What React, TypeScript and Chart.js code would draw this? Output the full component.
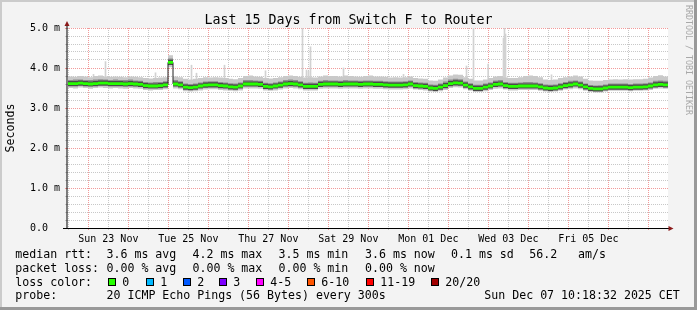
import React, { useEffect, useRef } from 'react';
import { Chart, registerables } from 'chart.js';

Chart.register(...registerables);

// ---------- texts ----------
const TITLE = 'Last 15 Days from Switch F to Router';
const Y_TITLE = 'Seconds';
const WATERMARK = 'RRDTOOL / TOBI OETIKER';

// ---------- time axis (hours since Sat 22 Nov 2025 00:00) ----------
const X_MIN = 11.2;
const X_MAX = 371.8;
const SAMPLE_START = 11.8;
const SAMPLE_STEP = 3;

const xTickHours = [36, 84, 132, 180, 228, 276, 324];
const xTickLabels = ['Sun 23 Nov', 'Tue 25 Nov', 'Thu 27 Nov', 'Sat 29 Nov', 'Mon 01 Dec', 'Wed 03 Dec', 'Fri 05 Dec'];
const yTickValues = [0, 1, 2, 3, 4, 5];
const yTickLabels = ['0.0  ', '1.0 m', '2.0 m', '3.0 m', '4.0 m', '5.0 m'];

// ---------- data (milliseconds), one value per 3-hour sample ----------
const median = [
  3.61, 3.61, 3.62, 3.61, 3.60, 3.61, 3.62, 3.62, 3.61, 3.61,
  3.61, 3.60, 3.61, 3.60, 3.59, 3.56, 3.55, 3.55, 3.56, 3.58,
  4.14, 3.60, 3.58, 3.52, 3.51, 3.52, 3.55, 3.57, 3.58, 3.58,
  3.56, 3.55, 3.53, 3.52, 3.55, 3.60, 3.60, 3.60, 3.59, 3.54,
  3.53, 3.55, 3.57, 3.60, 3.61, 3.60, 3.58, 3.54, 3.54, 3.54,
  3.59, 3.60, 3.60, 3.60, 3.59, 3.60, 3.60, 3.60, 3.59, 3.60,
  3.60, 3.59, 3.59, 3.58, 3.57, 3.57, 3.57, 3.58, 3.60, 3.56,
  3.55, 3.54, 3.50, 3.49, 3.52, 3.56, 3.61, 3.63, 3.62, 3.57,
  3.53, 3.49, 3.49, 3.52, 3.55, 3.59, 3.60, 3.56, 3.54, 3.54,
  3.55, 3.55, 3.55, 3.55, 3.53, 3.50, 3.49, 3.50, 3.53, 3.56,
  3.58, 3.60, 3.57, 3.53, 3.49, 3.48, 3.48, 3.50, 3.52, 3.52,
  3.52, 3.52, 3.51, 3.52, 3.52, 3.53, 3.55, 3.58, 3.59, 3.58,
];

const smokeHi = [
  3.79, 3.78, 3.80, 3.79, 3.77, 3.80, 3.81, 3.79, 3.78, 3.79,
  3.78, 3.77, 3.79, 3.78, 3.77, 3.75, 3.74, 3.75, 3.76, 3.77,
  4.32, 3.79, 3.77, 3.73, 3.71, 3.73, 3.75, 3.77, 3.76, 3.77,
  3.76, 3.75, 3.73, 3.72, 3.75, 3.80, 3.81, 3.79, 3.78, 3.75,
  3.74, 3.75, 3.77, 3.80, 3.81, 3.80, 3.78, 3.76, 3.77, 3.76,
  3.79, 3.81, 3.80, 3.80, 3.79, 3.81, 3.80, 3.79, 3.78, 3.80,
  3.81, 3.79, 3.79, 3.78, 3.76, 3.77, 3.76, 3.77, 3.79, 3.75,
  3.74, 3.73, 3.69, 3.68, 3.71, 3.76, 3.81, 3.84, 3.83, 3.77,
  3.73, 3.69, 3.69, 3.71, 3.75, 3.79, 3.80, 3.76, 3.75, 3.75,
  3.77, 3.80, 3.81, 3.80, 3.77, 3.71, 3.70, 3.71, 3.75, 3.77,
  3.79, 3.81, 3.79, 3.73, 3.69, 3.68, 3.68, 3.70, 3.71, 3.72,
  3.71, 3.72, 3.71, 3.72, 3.72, 3.73, 3.76, 3.80, 3.82, 3.79,
];

const smokeInnerHi = [
  3.70, 3.71, 3.71, 3.70, 3.70, 3.71, 3.72, 3.71, 3.70, 3.71,
  3.70, 3.70, 3.71, 3.69, 3.68, 3.65, 3.64, 3.65, 3.65, 3.67,
  4.24, 3.70, 3.67, 3.61, 3.60, 3.61, 3.64, 3.66, 3.67, 3.67,
  3.65, 3.64, 3.62, 3.61, 3.64, 3.70, 3.70, 3.69, 3.68, 3.63,
  3.62, 3.64, 3.66, 3.70, 3.71, 3.70, 3.67, 3.63, 3.64, 3.63,
  3.68, 3.70, 3.69, 3.69, 3.68, 3.70, 3.69, 3.69, 3.68, 3.69,
  3.69, 3.68, 3.68, 3.67, 3.66, 3.66, 3.66, 3.67, 3.69, 3.65,
  3.64, 3.63, 3.59, 3.58, 3.61, 3.66, 3.71, 3.73, 3.72, 3.66,
  3.62, 3.58, 3.58, 3.61, 3.64, 3.69, 3.70, 3.65, 3.63, 3.63,
  3.64, 3.65, 3.65, 3.64, 3.62, 3.59, 3.58, 3.59, 3.62, 3.65,
  3.68, 3.69, 3.66, 3.61, 3.57, 3.56, 3.57, 3.59, 3.61, 3.61,
  3.61, 3.61, 3.60, 3.61, 3.61, 3.62, 3.64, 3.68, 3.69, 3.68,
];

const smokeInnerLo = [
  3.57, 3.57, 3.58, 3.57, 3.56, 3.57, 3.58, 3.58, 3.57, 3.57,
  3.57, 3.56, 3.57, 3.56, 3.55, 3.52, 3.51, 3.51, 3.52, 3.54,
  4.08, 3.56, 3.54, 3.48, 3.47, 3.48, 3.51, 3.53, 3.54, 3.54,
  3.52, 3.51, 3.49, 3.48, 3.51, 3.56, 3.56, 3.56, 3.55, 3.50,
  3.49, 3.51, 3.53, 3.56, 3.57, 3.56, 3.54, 3.50, 3.50, 3.50,
  3.55, 3.56, 3.56, 3.56, 3.55, 3.56, 3.56, 3.56, 3.55, 3.56,
  3.56, 3.55, 3.55, 3.54, 3.53, 3.53, 3.53, 3.54, 3.56, 3.52,
  3.51, 3.50, 3.46, 3.45, 3.48, 3.52, 3.57, 3.59, 3.58, 3.53,
  3.49, 3.45, 3.45, 3.48, 3.51, 3.55, 3.56, 3.52, 3.50, 3.50,
  3.51, 3.51, 3.51, 3.51, 3.49, 3.46, 3.45, 3.46, 3.49, 3.52,
  3.54, 3.56, 3.53, 3.49, 3.45, 3.44, 3.44, 3.46, 3.48, 3.48,
  3.48, 3.48, 3.47, 3.48, 3.48, 3.49, 3.51, 3.54, 3.55, 3.54,
];

const smokeLo = [
  3.50, 3.49, 3.51, 3.50, 3.48, 3.50, 3.51, 3.50, 3.49, 3.50,
  3.49, 3.48, 3.50, 3.49, 3.48, 3.45, 3.44, 3.45, 3.45, 3.47,
  4.02, 3.49, 3.47, 3.42, 3.41, 3.42, 3.44, 3.46, 3.47, 3.47,
  3.45, 3.44, 3.43, 3.42, 3.44, 3.49, 3.49, 3.49, 3.48, 3.44,
  3.43, 3.44, 3.46, 3.49, 3.50, 3.49, 3.47, 3.44, 3.44, 3.44,
  3.48, 3.49, 3.49, 3.49, 3.48, 3.49, 3.49, 3.49, 3.48, 3.49,
  3.49, 3.48, 3.48, 3.47, 3.46, 3.46, 3.46, 3.47, 3.49, 3.46,
  3.45, 3.44, 3.41, 3.40, 3.42, 3.45, 3.50, 3.52, 3.51, 3.47,
  3.43, 3.40, 3.40, 3.42, 3.45, 3.48, 3.49, 3.46, 3.44, 3.44,
  3.45, 3.45, 3.45, 3.45, 3.43, 3.41, 3.40, 3.41, 3.43, 3.46,
  3.47, 3.49, 3.47, 3.43, 3.40, 3.39, 3.39, 3.41, 3.43, 3.43,
  3.43, 3.43, 3.42, 3.43, 3.43, 3.44, 3.45, 3.48, 3.49, 3.48,
];

// single slow pings (max of interval), hours since 22 Nov 00:00
const spikeHours = [27.1, 34.3, 64.3, 85.9, 88.9, 105.7, 130.3, 152.5, 154.9, 156.1, 157.3, 177.1, 213.1, 250.9, 255.1, 263.9, 273.1, 273.7, 274.3, 301.9];
const spikeTops = [3.84, 4.16, 3.88, 4.07, 3.87, 4.07, 3.93, 5.0, 3.95, 3.92, 4.53, 4.0, 3.84, 4.05, 5.0, 4.1, 4.75, 5.0, 4.85, 3.83];
const SPIKE_BASE = 3.6;

// ---------- legend ----------
const rttLabel = 'median rtt:';
const rttStats = ['3.6 ms avg', '4.2 ms max', '3.5 ms min', '3.6 ms now', '0.1 ms sd', '56.2   am/s'];
const lossLabel = 'packet loss:';
const lossStats = ['0.00 % avg', '0.00 % max', '0.00 % min', '0.00 % now'];
const lossColorLabel = 'loss color:';
const lossColorNames = ['0', '1', '2', '3', '4-5', '6-10', '11-19', '20/20'];
const lossColors = ['#26ff00', '#00b8ff', '#0059ff', '#7e00ff', '#ff00ff', '#ff5500', '#ff0000', '#a10000'];
const probeLabel = 'probe:';
const probeText = '20 ICMP Echo Pings (56 Bytes) every 300s';
const stampText = 'Sun Dec 07 10:18:32 2025 CET';

// ---------- styles / layout ----------
const W = 697;
const H = 310;
const MONO = '"DejaVu Sans Mono", monospace';
const BACK = '#f3f3f3';
const SHADE_A = '#cbcbcb';
const SHADE_B = '#999999';
const GRID = '#c8c8c8';
const MGRID = '#f29a9a';
const ARROW = '#8b1a1a';
const GREEN = lossColors[0];
const BAND = 0.035;
const HALO = 0.065;
const statX = [106.5, 192.5, 278.5, 365, 451, 529.2];
const boxX = [108, 146, 183, 219, 256, 307, 366, 431];
const rowY = [258.3, 271.7, 285.6, 299];

const decorPlugin = {
  id: 'decor',
  beforeDraw(chart: any) {
    const { ctx, chartArea: a } = chart;
    ctx.save();
    ctx.fillStyle = BACK;
    ctx.fillRect(0, 0, W, H);
    ctx.fillStyle = SHADE_A;
    ctx.fillRect(0, 0, W, 2);
    ctx.fillRect(0, 0, 2, H);
    ctx.fillStyle = SHADE_B;
    ctx.fillRect(0, H - 3, W, 3);
    ctx.fillRect(W - 3, 0, 3, H);
    ctx.fillStyle = '#ffffff';
    ctx.fillRect(a.left, a.top, a.right - a.left, a.bottom - a.top);
    ctx.restore();
  },
  afterDraw(chart: any) {
    const { ctx, chartArea: a } = chart;
    ctx.save();
    // axes
    ctx.strokeStyle = '#000';
    ctx.lineWidth = 1;
    ctx.beginPath();
    ctx.moveTo(a.left - 4, a.bottom + 0.5);
    ctx.lineTo(a.right + 1, a.bottom + 0.5);
    ctx.stroke();
    ctx.beginPath();
    ctx.moveTo(a.left, a.bottom + 1);
    ctx.lineTo(a.left, a.top - 3);
    ctx.stroke();
    ctx.fillStyle = ARROW;
    ctx.beginPath();
    ctx.moveTo(a.right + 0.5, a.bottom - 2);
    ctx.lineTo(a.right + 0.5, a.bottom + 3);
    ctx.lineTo(a.right + 5.5, a.bottom + 0.5);
    ctx.closePath();
    ctx.fill();
    ctx.beginPath();
    ctx.moveTo(a.left - 2.5, a.top - 2);
    ctx.lineTo(a.left + 2.5, a.top - 2);
    ctx.lineTo(a.left, a.top - 7);
    ctx.closePath();
    ctx.fill();

    // title
    ctx.fillStyle = '#000';
    ctx.font = `13.3px ${MONO}`;
    ctx.textAlign = 'center';
    ctx.textBaseline = 'alphabetic';
    ctx.fillText(TITLE, W / 2, 24);

    // vertical axis title
    ctx.save();
    ctx.font = `11.6px ${MONO}`;
    ctx.translate(11, (a.top + a.bottom) / 2);
    ctx.rotate(-Math.PI / 2);
    ctx.textAlign = 'center';
    ctx.textBaseline = 'middle';
    ctx.fillText(Y_TITLE, 0, 0);
    ctx.restore();

    // watermark
    ctx.save();
    ctx.font = `8.3px ${MONO}`;
    ctx.fillStyle = '#a8a8a8';
    ctx.translate(688, 5);
    ctx.rotate(Math.PI / 2);
    ctx.textAlign = 'left';
    ctx.textBaseline = 'middle';
    ctx.fillText(WATERMARK, 0, 0);
    ctx.restore();

    // legend
    ctx.font = `11.6px ${MONO}`;
    ctx.textAlign = 'left';
    ctx.textBaseline = 'alphabetic';
    ctx.fillStyle = '#000';
    ctx.fillText(rttLabel, 15.3, rowY[0]);
    rttStats.forEach((s, i) => ctx.fillText(s, statX[i], rowY[0]));
    ctx.fillText(lossLabel, 15.3, rowY[1]);
    lossStats.forEach((s, i) => ctx.fillText(s, statX[i], rowY[1]));
    ctx.fillText(lossColorLabel, 15.3, rowY[2]);
    lossColorNames.forEach((s, i) => {
      const bx = boxX[i];
      ctx.fillStyle = lossColors[i];
      ctx.fillRect(bx, 278, 8, 8);
      ctx.strokeStyle = '#000';
      ctx.strokeRect(bx + 0.5, 278.5, 7, 7);
      ctx.fillStyle = '#000';
      ctx.fillText(s, bx + 14.3, rowY[2]);
    });
    ctx.fillText(probeLabel, 15.3, rowY[3]);
    ctx.fillText(probeText, statX[0], rowY[3]);
    ctx.fillText(stampText, 484.3, rowY[3]);
    ctx.restore();
  },
};

export default function App() {
  const ref = useRef<HTMLCanvasElement>(null);

  useEffect(() => {
    document.body.style.margin = '0';
    const canvas = ref.current;
    if (!canvas) return;

    const xs = median.map((_, i) => SAMPLE_START + SAMPLE_STEP * i);
    const series = (arr: number[]) => {
      const pts = arr.map((v, i) => ({ x: xs[i], y: v }));
      pts.push({ x: X_MAX, y: arr[arr.length - 1] });
      return pts;
    };
    const medHi = median.map((v) => v + BAND);
    const medLo = median.map((v) => v - BAND);
    const haloHi = median.map((v) => v + HALO);
    const haloLo = median.map((v) => v - HALO);
    const base = {
      type: 'line' as const,
      pointRadius: 0,
      borderWidth: 0,
      borderColor: 'rgba(0,0,0,0)',
      stepped: true,
      tension: 0,
    };
    const xGrid: number[] = [];
    for (let h = 12; h <= X_MAX; h += 12) xGrid.push(h);
    const yGrid: number[] = [];
    for (let k = 0; k <= 25; k++) yGrid.push(k / 5);

    const isMajorY = (v: number) => Math.abs(v - Math.round(v)) < 1e-6;

    const chart = new Chart(canvas, {
      type: 'line',
      data: {
        datasets: [
          { ...base, label: 'median band', data: series(medHi), fill: '+1', backgroundColor: GREEN },
          { ...base, label: 'median band low', data: series(medLo), fill: false },
          { ...base, label: 'median', data: series(median), fill: false, borderWidth: 1, borderColor: '#202020' },
          { ...base, label: 'smoke core', data: series(haloHi), fill: '+1', backgroundColor: '#4a4a4a' },
          { ...base, label: 'smoke core low', data: series(haloLo), fill: false },
          { ...base, label: 'smoke inner', data: series(smokeInnerHi), fill: '+1', backgroundColor: '#8e8e8e' },
          { ...base, label: 'smoke inner low', data: series(smokeInnerLo), fill: false },
          { ...base, label: 'smoke', data: series(smokeHi), fill: '+1', backgroundColor: '#c9c9c9' },
          { ...base, label: 'smoke low', data: series(smokeLo), fill: false },
          {
            type: 'bar' as const,
            label: 'max',
            data: spikeHours.map((h, i) => ({ x: h, y: [SPIKE_BASE, spikeTops[i]] })),
            backgroundColor: '#d2d2d2',
            borderWidth: 0,
            barThickness: 1,
          } as any,
        ],
      },
      options: {
        animation: false,
        responsive: false,
        maintainAspectRatio: false,
        devicePixelRatio: 1,
        events: [],
        layout: { padding: { top: 28, right: 29, left: 0, bottom: 0 } },
        plugins: { legend: { display: false }, tooltip: { enabled: false }, title: { display: false } },
        scales: {
          x: {
            type: 'linear',
            min: X_MIN,
            max: X_MAX,
            offset: false,
            afterBuildTicks: (s: any) => {
              s.ticks = xGrid.map((v) => ({ value: v }));
            },
            afterFit: (s: any) => {
              s.height = 82;
            },
            grid: {
              offset: false,
              color: (c: any) => (c.tick && c.tick.value % 24 === 0 ? MGRID : GRID),
              lineWidth: 1,
              drawTicks: true,
              tickLength: 2,
              tickBorderDash: [],
            },
            border: { display: false, dash: [1, 1] },
            ticks: {
              autoSkip: false,
              maxRotation: 0,
              minRotation: 0,
              padding: 3,
              color: '#000',
              font: { family: MONO, size: 10 },
              callback: (v: any) => {
                const k = xTickHours.indexOf(Number(v));
                return k >= 0 ? xTickLabels[k] : '';
              },
            },
          },
          y: {
            type: 'linear',
            min: 0,
            max: 5,
            afterBuildTicks: (s: any) => {
              s.ticks = yGrid.map((v) => ({ value: v }));
            },
            afterFit: (s: any) => {
              s.width = 67;
            },
            grid: {
              color: (c: any) => (c.tick && isMajorY(c.tick.value) ? MGRID : GRID),
              lineWidth: 1,
              drawTicks: true,
              tickLength: 2,
              tickBorderDash: [],
            },
            border: { display: false, dash: [1, 1] },
            ticks: {
              autoSkip: false,
              padding: 5,
              color: '#000',
              font: { family: MONO, size: 10 },
              callback: (v: any) => {
                const n = Number(v);
                const k = yTickValues.findIndex((t) => Math.abs(t - n) < 1e-6);
                return k >= 0 ? yTickLabels[k] : '';
              },
            },
          },
        },
      } as any,
      plugins: [decorPlugin],
    });

    return () => chart.destroy();
  }, []);

  return (
    <div style={{ position: 'absolute', left: 0, top: 0, width: W, height: H }}>
      <canvas ref={ref} width={W} height={H} style={{ width: W, height: H, display: 'block' }} />
    </div>
  );
}
